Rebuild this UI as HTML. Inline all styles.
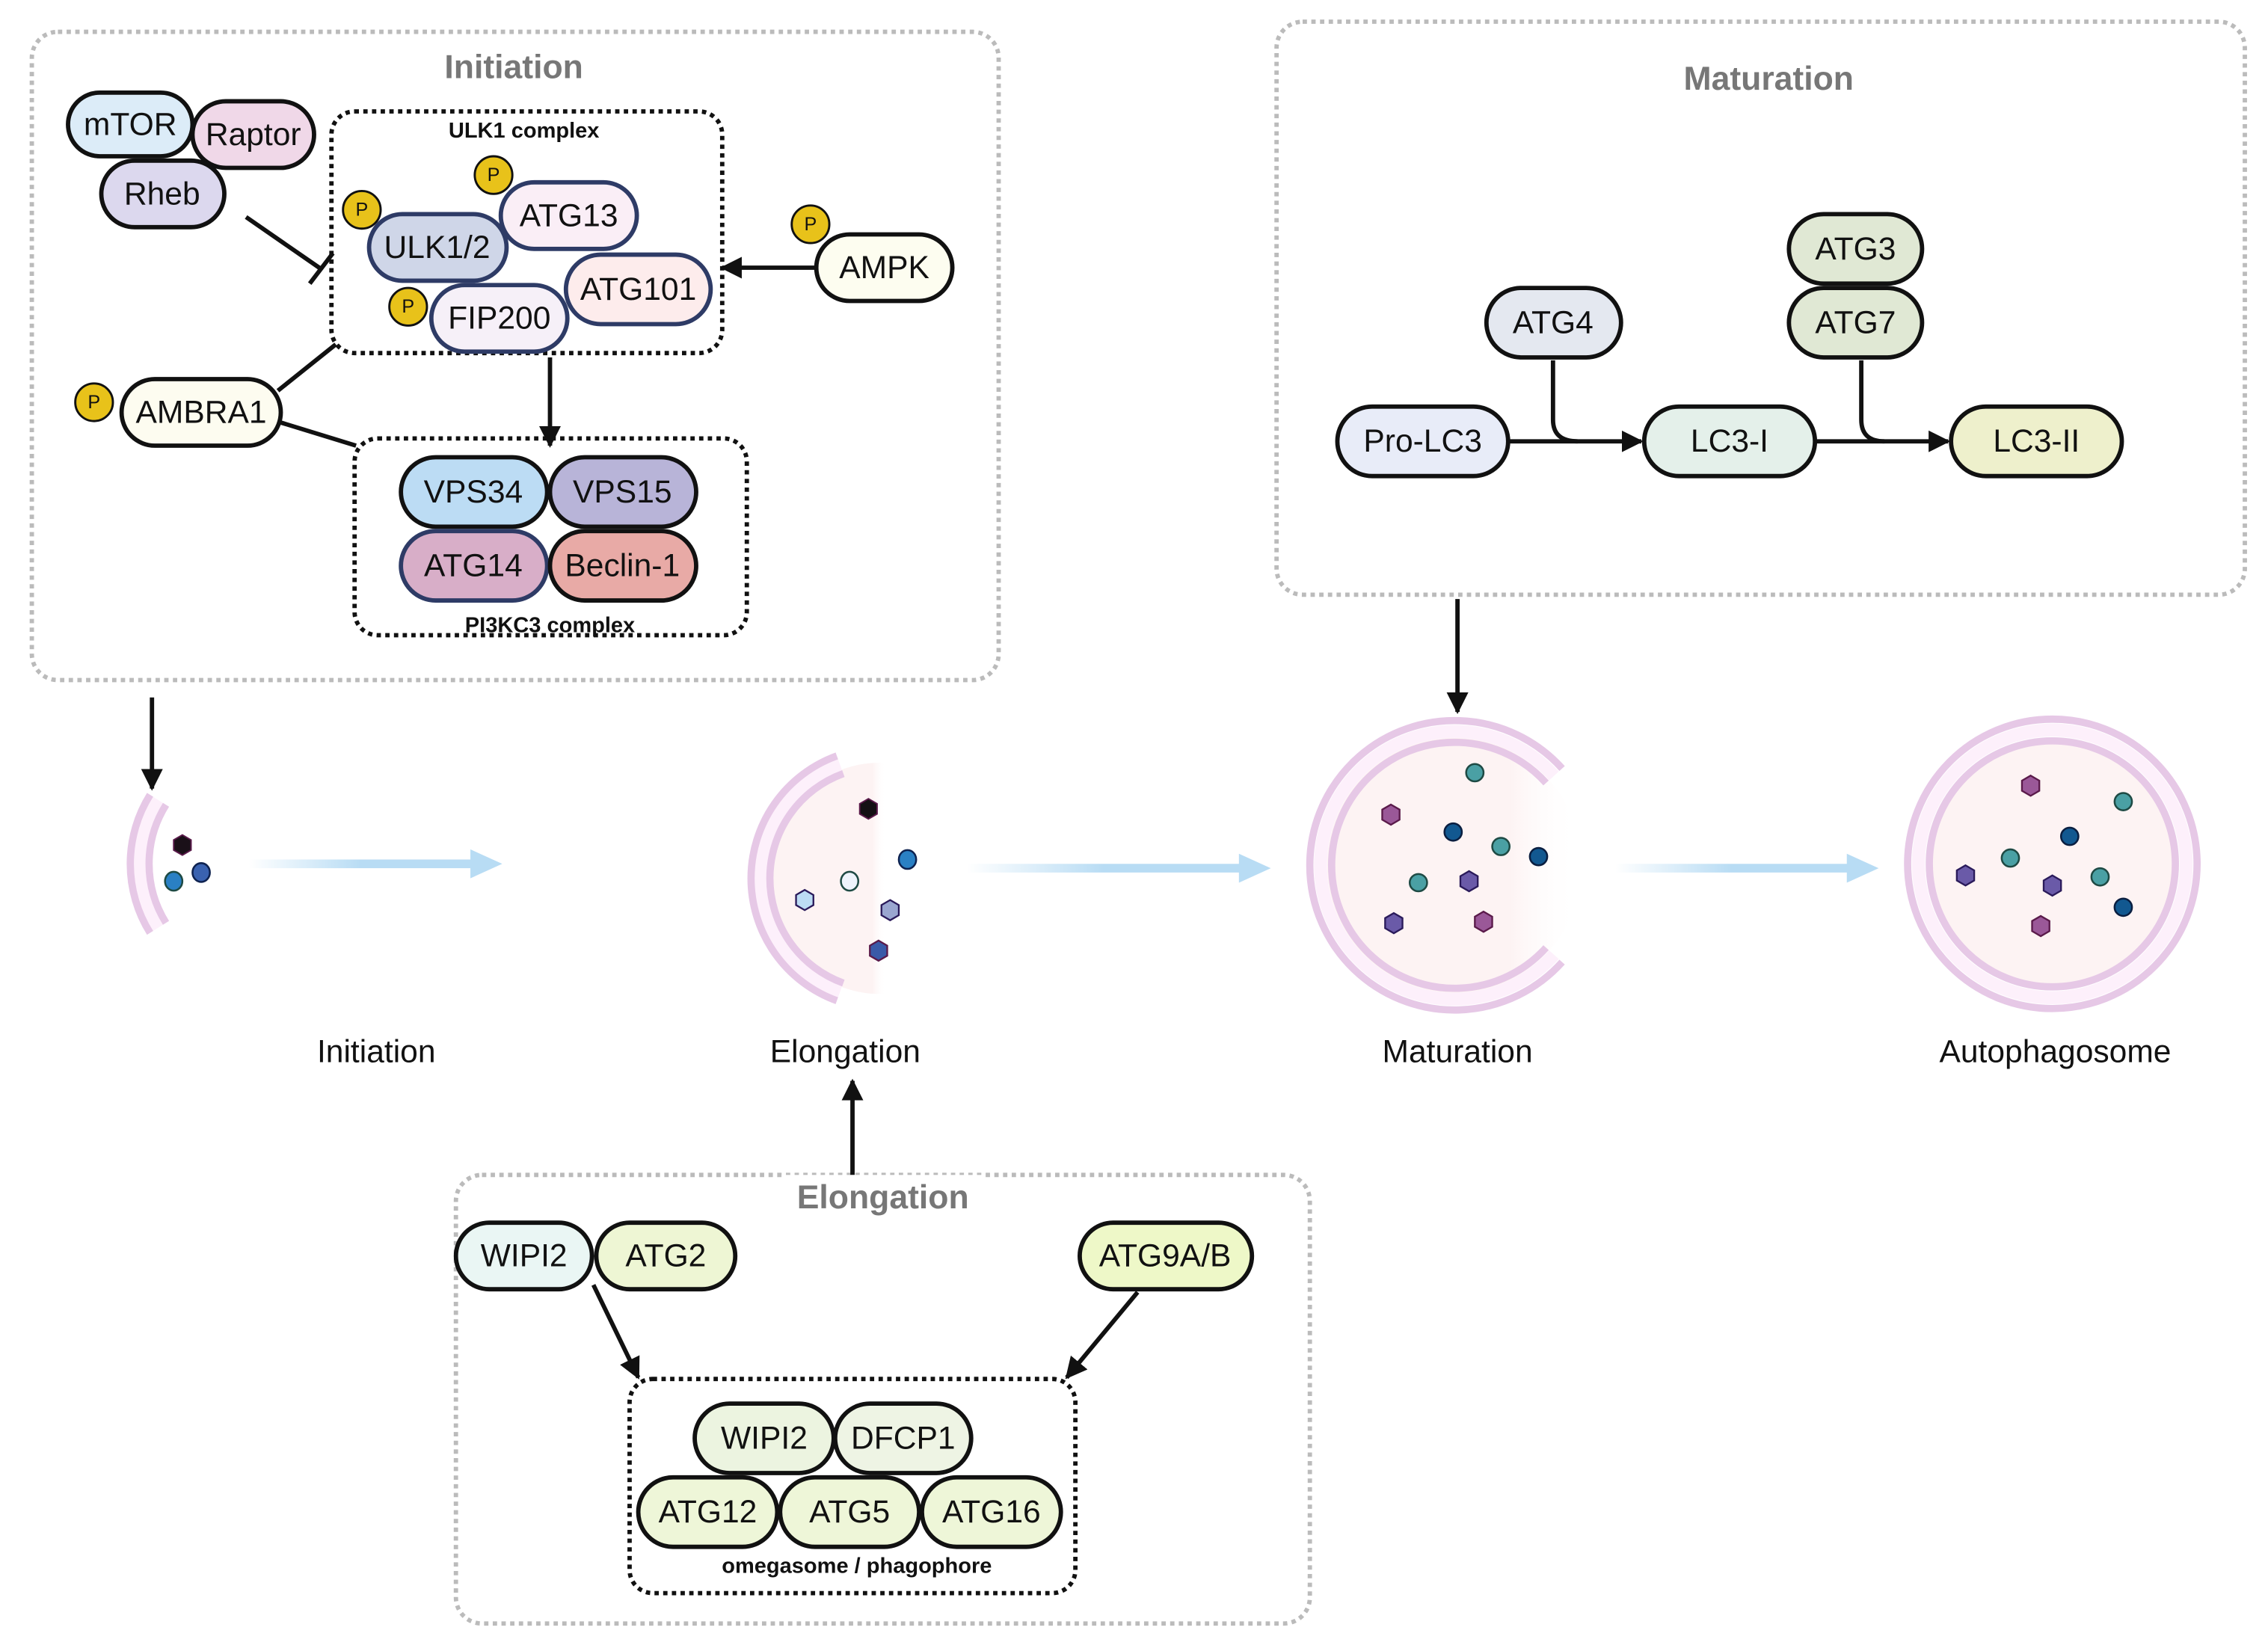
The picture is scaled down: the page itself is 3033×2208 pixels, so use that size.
<!DOCTYPE html>
<html><head><meta charset="utf-8"><style>
html,body{margin:0;padding:0;background:#fff;}
svg{display:block;}
text{font-family:"Liberation Sans",sans-serif;}
.t{font-size:22px;text-anchor:middle;dominant-baseline:central;fill:#111;}
.h{font-size:23px;font-weight:bold;fill:#777;text-anchor:middle;}
.s{font-size:15px;font-weight:bold;fill:#111;text-anchor:middle;}
.lab{font-size:22px;text-anchor:middle;fill:#111;}
.pk{stroke:#111;stroke-width:3;}
.nv{stroke:#2e3b66;stroke-width:3;}
.gb{fill:none;stroke:#bbb;stroke-width:3;stroke-dasharray:3 3;}
.db{fill:none;stroke:#111;stroke-width:3;stroke-dasharray:3 3;}
.ln{stroke:#111;stroke-width:3;fill:none;}
.pc{fill:#e8c21a;stroke:#111;stroke-width:1.5;}
.pt{font-size:13px;text-anchor:middle;dominant-baseline:central;fill:#111;}
.mem{fill:none;stroke:#e6c8e6;stroke-width:5;}
.band{fill:none;stroke:#fdf0fb;stroke-width:9;}
</style></head><body>
<svg width="3033" height="2208" viewBox="0 0 1567 1141" preserveAspectRatio="none" xmlns="http://www.w3.org/2000/svg">
<defs>
<marker id="ah" viewBox="0 0 10 10" refX="9" refY="5" markerWidth="5" markerHeight="5" orient="auto" markerUnits="strokeWidth"><path d="M0,0 L10,5 L0,10 z" fill="#111"/></marker>
<linearGradient id="bg" x1="0" x2="1"><stop offset="0" stop-color="#b8dcf4" stop-opacity="0"/><stop offset="0.5" stop-color="#b8dcf4"/><stop offset="1" stop-color="#b8dcf4"/></linearGradient>
<linearGradient id="fillE" x1="0" x2="1"><stop offset="0" stop-color="#fdf3f3"/><stop offset="0.9" stop-color="#fdf3f3"/><stop offset="1" stop-color="#fff" stop-opacity="0"/></linearGradient>
<linearGradient id="fillM" x1="0" x2="1"><stop offset="0" stop-color="#fdf3f3"/><stop offset="0.7" stop-color="#fdf3f3"/><stop offset="0.95" stop-color="#fff" stop-opacity="0"/></linearGradient>
<clipPath id="cE"><circle cx="609" cy="607" r="80"/></clipPath>
<clipPath id="cM"><circle cx="1005" cy="598" r="88"/></clipPath>
<path id="hx" d="M0,-7 L6,-3.5 L6,3.5 L0,7 L-6,3.5 L-6,-3.5 z"/>
</defs>

<rect x="22" y="22" width="668" height="448" rx="18" class="gb"/>
<text x="355" y="54" class="h">Initiation</text>
<rect x="229" y="77" width="270" height="167" rx="16" class="db"/>
<text x="362" y="95" class="s">ULK1 complex</text>
<rect x="245" y="303" width="271" height="136" rx="16" class="db"/>
<text x="380" y="437" class="s">PI3KC3 complex</text>

<line x1="170" y1="150" x2="222" y2="186" class="ln"/>
<line x1="214" y1="196" x2="230" y2="175" class="ln"/>
<line x1="564" y1="185" x2="499" y2="185" class="ln" marker-end="url(#ah)"/>
<line x1="192" y1="270" x2="232" y2="238" class="ln"/>
<line x1="194" y1="292" x2="246" y2="308" class="ln"/>
<line x1="380" y1="247" x2="380" y2="308" class="ln" marker-end="url(#ah)"/>

<rect x="47" y="64" width="86" height="44" rx="22" fill="#dcecf8" class="pk"/><text x="90" y="86" class="t">mTOR</text>
<rect x="133" y="70" width="84" height="46" rx="23" fill="#f0d8e8" class="pk"/><text x="175" y="93" class="t">Raptor</text>
<rect x="70" y="111" width="85" height="46" rx="23" fill="#dcd8ee" class="pk"/><text x="112" y="134" class="t">Rheb</text>

<rect x="346" y="126" width="94" height="46" rx="23" fill="#faeef6" class="nv"/><text x="393" y="149" class="t">ATG13</text>
<rect x="255" y="148" width="95" height="46" rx="23" fill="#cfd6e8" class="nv"/><text x="302" y="171" class="t">ULK1/2</text>
<rect x="391" y="176" width="100" height="48" rx="24" fill="#fdecec" class="nv"/><text x="441" y="200" class="t">ATG101</text>
<rect x="298" y="197" width="94" height="46" rx="23" fill="#f6f0f8" class="nv"/><text x="345" y="220" class="t">FIP200</text>
<circle cx="250" cy="145" r="13" class="pc"/><text x="250" y="145" class="pt">P</text>
<circle cx="341" cy="121" r="13" class="pc"/><text x="341" y="121" class="pt">P</text>
<circle cx="282" cy="212" r="13" class="pc"/><text x="282" y="212" class="pt">P</text>

<rect x="564" y="162" width="94" height="46" rx="23" fill="#fdfdf0" class="pk"/><text x="611" y="185" class="t">AMPK</text>
<circle cx="560" cy="155" r="13" class="pc"/><text x="560" y="155" class="pt">P</text>
<rect x="84" y="262" width="110" height="46" rx="23" fill="#fdfcf0" class="pk"/><text x="139" y="285" class="t">AMBRA1</text>
<circle cx="65" cy="278" r="13" class="pc"/><text x="65" y="278" class="pt">P</text>

<rect x="277" y="316" width="101" height="48" rx="24" fill="#bcdcf4" class="pk"/><text x="327" y="340" class="t">VPS34</text>
<rect x="380" y="316" width="101" height="48" rx="24" fill="#b8b4d8" class="pk"/><text x="430" y="340" class="t">VPS15</text>
<rect x="277" y="367" width="101" height="48" rx="24" fill="#d8aec8" class="nv"/><text x="327" y="391" class="t">ATG14</text>
<rect x="380" y="367" width="101" height="48" rx="24" fill="#e8aaa6" class="pk"/><text x="430" y="391" class="t">Beclin-1</text>

<rect x="882" y="15" width="669" height="396" rx="18" class="gb"/>
<text x="1222" y="62" class="h">Maturation</text>
<path d="M1073,249 L1073,290 Q1073,305 1090,305" class="ln"/>
<path d="M1286,249 L1286,290 Q1286,305 1302,305" class="ln"/>
<line x1="1042" y1="305" x2="1134" y2="305" class="ln" marker-end="url(#ah)"/>
<line x1="1254" y1="305" x2="1346" y2="305" class="ln" marker-end="url(#ah)"/>
<rect x="1027" y="199" width="93" height="48" rx="24" fill="#e4e8f0" class="pk"/><text x="1073" y="223" class="t">ATG4</text>
<rect x="1236" y="148" width="92" height="48" rx="24" fill="#e0e8d4" class="pk"/><text x="1282" y="172" class="t">ATG3</text>
<rect x="1236" y="199" width="92" height="48" rx="24" fill="#e0e8d4" class="pk"/><text x="1282" y="223" class="t">ATG7</text>
<rect x="924" y="281" width="118" height="48" rx="24" fill="#e8ecf8" class="pk"/><text x="983" y="305" class="t">Pro-LC3</text>
<rect x="1136" y="281" width="118" height="48" rx="24" fill="#e4f0ea" class="pk"/><text x="1195" y="305" class="t">LC3-I</text>
<rect x="1348" y="281" width="118" height="48" rx="24" fill="#eef0cc" class="pk"/><text x="1407" y="305" class="t">LC3-II</text>
<line x1="1007" y1="414" x2="1007" y2="492" class="ln" marker-end="url(#ah)"/>
<line x1="105" y1="482" x2="105" y2="545" class="ln" marker-end="url(#ah)"/>

<rect x="172" y="594" width="155" height="6" fill="url(#bg)"/><path d="M325,587 L347,597 L325,607 z" fill="#b8dcf4"/>
<rect x="668" y="597" width="190" height="6" fill="url(#bg)"/><path d="M856,590 L878,600 L856,610 z" fill="#b8dcf4"/>
<rect x="1116" y="597" width="162" height="6" fill="url(#bg)"/><path d="M1276,590 L1298,600 L1276,610 z" fill="#b8dcf4"/>

<path d="M109.2,552.8 A83.5,83.5 0 0 0 109.2,641.2" class="band"/>
<path d="M103.7,549.3 A90,90 0 0 0 103.7,644.7" class="mem"/>
<path d="M114.7,556.2 A77,77 0 0 0 114.7,637.8" class="mem"/>
<use href="#hx" x="126" y="584" fill="#1a1018" stroke="#5a1a4a" stroke-width="1"/>
<ellipse cx="139" cy="603" rx="6" ry="6.5" fill="#3a62b0" stroke="#0e2250" stroke-width="1.3"/>
<ellipse cx="120" cy="609" rx="6" ry="6.5" fill="#2a80c4" stroke="#1e4a44" stroke-width="1.3"/>

<rect x="520" y="520" width="92" height="180" fill="url(#fillE)" clip-path="url(#cE)"/>
<path d="M580.4,528.5 A83.5,83.5 0 0 0 580.4,685.5" class="band"/>
<path d="M578.2,522.4 A90,90 0 0 0 578.2,691.6" class="mem"/>
<path d="M582.7,534.6 A77,77 0 0 0 582.7,679.4" class="mem"/>
<use href="#hx" x="600" y="559" fill="#141014" stroke="#5a1a4a" stroke-width="1"/>
<ellipse cx="627" cy="594" rx="6" ry="6.5" fill="#2a80c4" stroke="#0e2250" stroke-width="1.3"/>
<ellipse cx="587" cy="609" rx="6" ry="6.5" fill="#eef4fc" stroke="#1e4a44" stroke-width="1.3"/>
<use href="#hx" x="556" y="622" fill="#bcdcf4" stroke="#2a1a5a" stroke-width="1.2"/>
<use href="#hx" x="615" y="629" fill="#9aa6d0" stroke="#2a1a5a" stroke-width="1.2"/>
<use href="#hx" x="607" y="657" fill="#3a5aa8" stroke="#5a1a4a" stroke-width="1.2"/>

<rect x="910" y="505" width="190" height="190" fill="url(#fillM)" clip-path="url(#cM)"/>
<path d="M1073.7,536.2 A92.5,92.5 0 1 0 1073.7,659.8" class="band"/>
<path d="M1079.3,531.1 A100,100 0 1 0 1079.3,664.9" class="mem"/>
<path d="M1068.2,541.1 A85,85 0 1 0 1068.2,654.9" class="mem"/>
<circle cx="1019" cy="534" r="6" fill="#4aa0a4" stroke="#1e4a44" stroke-width="1.3"/>
<use href="#hx" x="961" y="563" fill="#9a5898" stroke="#5a1a4a" stroke-width="1.2"/>
<circle cx="1004" cy="575" r="6" fill="#125890" stroke="#0a1e40" stroke-width="1.3"/>
<circle cx="1037" cy="585" r="6" fill="#4aa0a4" stroke="#1e4a44" stroke-width="1.3"/>
<circle cx="1063" cy="592" r="6" fill="#125890" stroke="#0a1e40" stroke-width="1.3"/>
<circle cx="980" cy="610" r="6" fill="#4aa0a4" stroke="#1e4a44" stroke-width="1.3"/>
<use href="#hx" x="1015" y="609" fill="#6a5aa8" stroke="#2a1a5a" stroke-width="1.2"/>
<use href="#hx" x="963" y="638" fill="#6a5aa8" stroke="#2a1a5a" stroke-width="1.2"/>
<use href="#hx" x="1025" y="637" fill="#9a5898" stroke="#5a1a4a" stroke-width="1.2"/>

<circle cx="1418" cy="597" r="85" fill="#fdf3f3"/>
<circle cx="1418" cy="597" r="92.5" class="band"/>
<circle cx="1418" cy="597" r="100" class="mem"/>
<circle cx="1418" cy="597" r="85" class="mem"/>
<use href="#hx" x="1403" y="543" fill="#9a5898" stroke="#5a1a4a" stroke-width="1.2"/>
<circle cx="1467" cy="554" r="6" fill="#4aa0a4" stroke="#1e4a44" stroke-width="1.3"/>
<circle cx="1430" cy="578" r="6" fill="#125890" stroke="#0a1e40" stroke-width="1.3"/>
<circle cx="1389" cy="593" r="6" fill="#4aa0a4" stroke="#1e4a44" stroke-width="1.3"/>
<use href="#hx" x="1358" y="605" fill="#6a5aa8" stroke="#2a1a5a" stroke-width="1.2"/>
<use href="#hx" x="1418" y="612" fill="#6a5aa8" stroke="#2a1a5a" stroke-width="1.2"/>
<circle cx="1451" cy="606" r="6" fill="#4aa0a4" stroke="#1e4a44" stroke-width="1.3"/>
<circle cx="1467" cy="627" r="6" fill="#125890" stroke="#0a1e40" stroke-width="1.3"/>
<use href="#hx" x="1410" y="640" fill="#9a5898" stroke="#5a1a4a" stroke-width="1.2"/>

<text x="260" y="734" class="lab">Initiation</text>
<text x="584" y="734" class="lab">Elongation</text>
<text x="1007" y="734" class="lab">Maturation</text>
<text x="1420" y="734" class="lab">Autophagosome</text>

<rect x="315" y="812" width="590" height="310" rx="18" class="gb"/>
<line x1="589" y1="812" x2="589" y2="747" class="ln" marker-end="url(#ah)"/>
<rect x="540" y="812" width="140" height="26" fill="#fff"/>
<text x="610" y="835" class="h">Elongation</text>
<rect x="435" y="953" width="308" height="148" rx="16" class="db"/>
<text x="592" y="1087" class="s">omegasome / phagophore</text>
<line x1="410" y1="888" x2="441" y2="952" class="ln" marker-end="url(#ah)"/>
<line x1="786" y1="893" x2="737" y2="952" class="ln" marker-end="url(#ah)"/>
<rect x="315" y="845" width="94" height="46" rx="23" fill="#eaf6f4" class="pk"/><text x="362" y="868" class="t">WIPI2</text>
<rect x="412" y="845" width="96" height="46" rx="23" fill="#eef6d4" class="pk"/><text x="460" y="868" class="t">ATG2</text>
<rect x="746" y="845" width="119" height="46" rx="23" fill="#eef8c8" class="pk"/><text x="805" y="868" class="t">ATG9A/B</text>
<rect x="480" y="970" width="96" height="48" rx="24" fill="#ecf4e0" class="pk"/><text x="528" y="994" class="t">WIPI2</text>
<rect x="577" y="970" width="94" height="48" rx="24" fill="#eef4e4" class="pk"/><text x="624" y="994" class="t">DFCP1</text>
<rect x="441" y="1021" width="96" height="48" rx="24" fill="#eef6d8" class="pk"/><text x="489" y="1045" class="t">ATG12</text>
<rect x="539" y="1021" width="96" height="48" rx="24" fill="#eef6d8" class="pk"/><text x="587" y="1045" class="t">ATG5</text>
<rect x="637" y="1021" width="96" height="48" rx="24" fill="#eef6d8" class="pk"/><text x="685" y="1045" class="t">ATG16</text>
</svg>
</body></html>
